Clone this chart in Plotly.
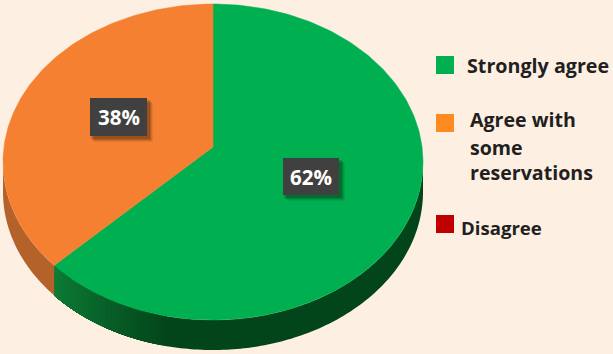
import math
import plotly.graph_objects as go

categories = ["Strongly agree", "Agree with some reservations", "Disagree"]
values = [62, 38, 0]
value_labels = ["62%", "38%"]
slice_colors = ["#00B050", "#F58031", "#C00000"]
legend_colors = ["#00B050", "#FF8A20", "#C00000"]
legend_lines = [["Strongly agree"], ["Agree with", "some", "reservations"], ["Disagree"]]

W, H = 613, 354
BG = "#FDF0E3"
CX, CY, RX, RY = 213, 162, 210, 158   # rim ellipse
VX, VY = 213, 147                     # apparent centre of the tilted disc
DIR_RY = 147                          # foreshortening of slice directions
DEPTH = 30


def rim_point(share):
    a = 2 * math.pi * share
    dx, dy = RX * math.sin(a), -DIR_RY * math.cos(a)
    ox, oy = (VX - CX) / RX, (VY - CY) / RY
    ux, uy = dx / RX, dy / RY
    A = ux * ux + uy * uy
    B = 2 * (ox * ux + oy * uy)
    C = ox * ox + oy * oy - 1
    t = (-B + math.sqrt(B * B - 4 * A * C)) / (2 * A)
    return VX + t * dx, VY + t * dy


def param(x, y):
    return math.atan2((y - CY) / RY, (x - CX) / RX) % (2 * math.pi)


def mix(c1, c2, t):
    return "#%02x%02x%02x" % tuple(round(a + (b - a) * t) for a, b in zip(c1, c2))


def side_strip(t0, t1, color):
    n = max(2, int(abs(t1 - t0) * 60))
    ts = [t0 + (t1 - t0) * i / n for i in range(n + 1)]
    xs = [CX + RX * math.cos(t) for t in ts]
    ys = [CY + RY * math.sin(t) for t in ts]
    return go.Scatter(
        x=xs + xs[::-1],
        y=ys + [y + DEPTH for y in ys[::-1]],
        fill="toself", fillcolor=color, mode="none",
        hoverinfo="skip", showlegend=False,
    )


fig = go.Figure()
total = sum(values)
cum = 0
shares = []
for v in values:
    shares.append((cum / total, (cum + v) / total))
    cum += v

# extruded side: painted back to front so the gradient steps leave no seams
bx, by = rim_point(shares[0][1])
t_b = param(bx, by)
t_dark = param(167, CY + RY * math.sqrt(1 - ((167 - CX) / RX) ** 2))
fig.add_trace(side_strip(0.0, t_b, "#03451A"))
N = 24
for i in range(N):
    t0 = t_dark + (t_b - t_dark) * i / N
    fig.add_trace(side_strip(t0, t_b, mix((3, 69, 26), (12, 124, 54), (i + 0.5) / N)))
fig.add_trace(side_strip(t_b, math.pi, "#B4622A"))

# top faces
for cat, (s0, s1), col in zip(categories, shares, slice_colors):
    if s1 <= s0:
        continue
    n = int((s1 - s0) * 360)
    pts = [rim_point(s0 + (s1 - s0) * i / n) for i in range(n + 1)]
    fig.add_trace(go.Scatter(
        x=[VX] + [p[0] for p in pts] + [VX],
        y=[VY] + [p[1] for p in pts] + [VY],
        fill="toself", fillcolor=col, mode="lines",
        line=dict(color=col, width=0.5), name=cat, showlegend=False,
        hovertemplate=f"{cat}: {round((s1 - s0) * 100)}%<extra></extra>",
    ))

shapes = []
annotations = []


def text(x, y, s, size, color="#231F20", anchor="left", weight=700):
    annotations.append(dict(
        x=x, y=y, xref="x", yref="y", text=s, showarrow=False, xanchor=anchor,
        yanchor="middle", font=dict(family="Open Sans", size=size, color=color, weight=weight),
    ))


def rect(x0, y0, x1, y1, color):
    shapes.append(dict(type="rect", xref="x", yref="y", x0=x0, y0=y0, x1=x1, y1=y1,
                       fillcolor=color, line=dict(width=0), layer="above"))


# value labels
boxes = [(283, 158, 339, 195), (90, 98, 147, 136)]
for (x0, y0, x1, y1), lab in zip(boxes, value_labels):
    for off, alpha in [(6, 0.07), (5, 0.09), (4, 0.12), (3, 0.15)]:
        rect(x0 + off - 2, y0 + off - 1, x1 + off, y1 + off, f"rgba(0,0,0,{alpha})")
    rect(x0, y0, x1, y1, "#404040")
    text((x0 + x1) / 2, (y0 + y1) / 2, lab, 20.5, "#FFFFFF", "center", 700)

# key
swatches = [(436, 56), (436, 114), (436, 215)]
line_pos = [[(465, 65, 19.7)], [(468, 119, 19.6), (468, 147, 19.6), (468, 172, 19.6)], [(459, 227, 18.6)]]
for (sx, sy), col, lines, pos in zip(swatches, legend_colors, legend_lines, line_pos):
    rect(sx, sy, sx + 18, sy + 18, col)
    for s, (x, y, size) in zip(lines, pos):
        text(x, y, s, size)

fig.update_layout(
    width=W, height=H, margin=dict(l=0, r=0, t=0, b=0),
    paper_bgcolor=BG, plot_bgcolor=BG, showlegend=False,
    xaxis=dict(range=[0, W], visible=False, fixedrange=True),
    yaxis=dict(range=[H, 0], visible=False, fixedrange=True),
    shapes=shapes, annotations=annotations,
)
fig.write_html("out.html", config={"displayModeBar": False},
               post_script="document.body.style.margin='0';document.body.style.background='%s';" % BG)
